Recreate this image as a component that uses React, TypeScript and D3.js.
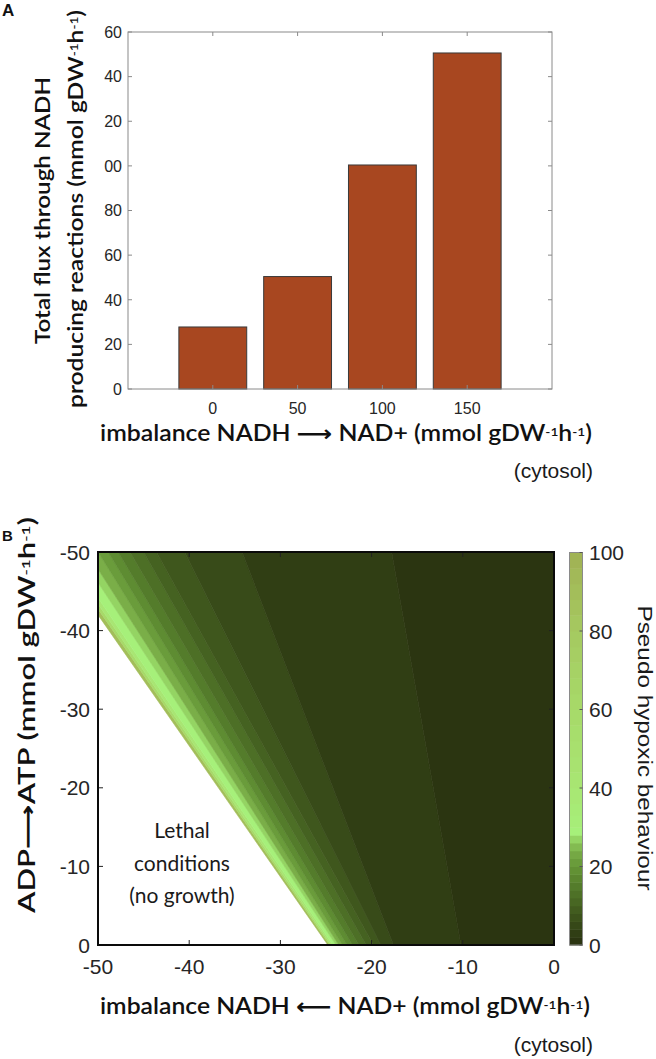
import React from 'react';
import * as d3 from 'd3';

// ---------- Panel A data ----------
const barCategories = [0, 50, 100, 150];
const barValues = [27.8, 50.4, 100.4, 150.6];
const barYTicks = [0, 20, 40, 60, 80, 100, 120, 140, 160];
const barYTickLabels = ['0', '20', '40', '60', '80', '00', '20', '40', '60'];

// ---------- Panel B data ----------
const mapXTicks = [-50, -40, -30, -20, -10, 0];
const mapYTicks = [-50, -40, -30, -20, -10, 0];
// contour lines: x position where each line crosses y = 0 and y = -50
const contourXAtY0 = [-24.8, -24.6, -24.45, -24.25, -23.9, -23.6, -23.2, -22.7, -22.1, -21.4, -20.6, -19.8, -19.0, -17.6, -10.2, 2];
const contourXAtYm50 = [-54.8, -54.3, -53.9, -53.4, -52.2, -51.2, -50.0, -48.9, -47.8, -46.5, -45.0, -43.6, -40.5, -34.2, -17.8, 2];
// value filling the band between consecutive contour lines
const bandValues = [90, 60, 40, 29, 27, 24, 21, 18, 15, 12.5, 10, 8, 5.5, 3, 1];

const cmapValues = [0, 4, 8, 12, 16, 20, 24, 27, 28.5, 40, 60, 80, 100];
const cmapColors = ['#28300f', '#334316', '#3f571d', '#4b6c25', '#57812d', '#659636', '#7aae48', '#94d463', '#a6f07a', '#a8e673', '#a7da69', '#a5c960', '#a1b254'];
const colorbarTicks = [0, 20, 40, 60, 80, 100];
const colorbarSteps = [0, 2, 4, 6, 8, 10, 12, 14, 16, 18, 20, 22, 24, 26, 28, 30, 33, 36, 40, 44, 48, 52, 56, 60, 64, 68, 72, 76, 80, 84, 88, 92, 96, 100];

const tickFont = "'Liberation Sans', Arial, Helvetica, sans-serif";
const labelFont = "Lato, 'Open Sans', sans-serif";

const Units = ({ sup }: { sup: number }) => (
  <>
    <tspan>(mmol gDW</tspan>
    <tspan dy={-sup} fontSize="0.55em">-1</tspan>
    <tspan dy={sup}>h</tspan>
    <tspan dy={-sup} fontSize="0.55em">-1</tspan>
    <tspan dy={sup}>)</tspan>
  </>
);

export default function App() {
  // Panel A scales
  const ax = d3.scaleLinear().domain([-50, 200]).range([128, 552]);
  const ay = d3.scaleLinear().domain([0, 160]).range([389, 32]);
  const halfW = 20;

  // Panel B scales
  const bx = d3.scaleLinear().domain([-50, 0]).range([98, 554]);
  const by = d3.scaleLinear().domain([0, -50]).range([945, 552]);
  const cmap = d3.scaleLinear<string>().domain(cmapValues).range(cmapColors).interpolate(d3.interpolateRgb);
  const cy = d3.scaleLinear().domain([0, 100]).range([945, 552.5]);

  const bands = bandValues.map((v, i) => {
    const pts: [number, number][] = [
      [bx(contourXAtY0[i]), by(0)],
      [bx(contourXAtYm50[i]), by(-50)],
      [bx(contourXAtYm50[i + 1]), by(-50)],
      [bx(contourXAtY0[i + 1]), by(0)],
    ];
    return { v, d: 'M' + pts.map(p => p.join(',')).join('L') + 'Z' };
  });

  const gray = '#8a8a8a';
  const tickColor = '#262626';

  return (
    <svg width={656} height={1059} style={{ position: 'absolute', left: 0, top: 0, background: '#fff' }}>
      <defs>
        <clipPath id="mapClip">
          <rect x={bx(-50)} y={by(-50)} width={bx(0) - bx(-50)} height={by(0) - by(-50)} />
        </clipPath>
      </defs>

      {/* ---------------- Panel A ---------------- */}
      <text x={2} y={16} fontFamily={tickFont} fontWeight="bold" fontSize={17} fill="#111">A</text>

      {barCategories.map((c, i) => (
        <rect key={c} x={ax(c - halfW)} y={ay(barValues[i])} width={ax(c + halfW) - ax(c - halfW)} height={ay(0) - ay(barValues[i])}
          fill="#a84720" stroke="#3a3a3a" strokeWidth={1} />
      ))}

      <rect x={ax(-50)} y={ay(160)} width={ax(200) - ax(-50)} height={ay(0) - ay(160)} fill="none" stroke={gray} strokeWidth={1} />
      {barYTicks.map((t, i) => (
        <g key={t}>
          <line x1={ax(-50)} x2={ax(-50) + 4} y1={ay(t)} y2={ay(t)} stroke={gray} />
          <line x1={ax(200)} x2={ax(200) - 4} y1={ay(t)} y2={ay(t)} stroke={gray} />
          <text x={122} y={ay(t)} dy="0.36em" textAnchor="end" fontFamily={tickFont} fontSize={16} fill={tickColor}>{barYTickLabels[i]}</text>
        </g>
      ))}
      {barCategories.map(c => (
        <g key={c}>
          <line x1={ax(c)} x2={ax(c)} y1={ay(0)} y2={ay(0) - 4} stroke={gray} />
          <line x1={ax(c)} x2={ax(c)} y1={ay(160)} y2={ay(160) + 4} stroke={gray} />
          <text x={ax(c)} y={414} textAnchor="middle" fontFamily={tickFont} fontSize={16} fill={tickColor}>{c}</text>
        </g>
      ))}

      <text transform="translate(50,210.5) rotate(-90)" textAnchor="middle" fontFamily={labelFont} fontWeight={600} fontSize={21} fill="#111"
        textLength={267} lengthAdjust="spacingAndGlyphs">Total flux through NADH</text>
      <text transform="translate(83,209) rotate(-90)" textAnchor="middle" fontFamily={labelFont} fontWeight={600} fontSize={21} fill="#111"
        textLength={398} lengthAdjust="spacingAndGlyphs">producing reactions <Units sup={5} /></text>

      <text x={100} y={441} fontFamily={labelFont} fontWeight={600} fontSize={22} fill="#111" textLength={492} lengthAdjust="spacingAndGlyphs">
        imbalance NADH <tspan fontFamily="'DejaVu Sans'" fontWeight="bold">⟶</tspan> NAD+ <Units sup={5} />
      </text>
      <text x={593} y={478} textAnchor="end" fontFamily={tickFont} fontSize={21} fill="#1a1a1a">(cytosol)</text>

      {/* ---------------- Panel B ---------------- */}
      <text x={2} y={541} fontFamily={tickFont} fontWeight="bold" fontSize={15} fill="#111">B</text>

      <g clipPath="url(#mapClip)">
        {bands.map((b, i) => (
          <path key={i} d={b.d} fill={cmap(b.v)} stroke={cmap(b.v)} strokeWidth={0.6} />
        ))}
      </g>

      {/* ticks */}
      {mapXTicks.map(t => (
        <g key={'x' + t}>
          <line x1={bx(t)} x2={bx(t)} y1={by(0)} y2={by(0) - 5} stroke="#222" />
          <line x1={bx(t)} x2={bx(t)} y1={by(-50)} y2={by(-50) + 5} stroke="#222" />
          <text x={bx(t)} y={974} textAnchor="middle" fontFamily={tickFont} fontSize={21} fill={tickColor}>{t}</text>
        </g>
      ))}
      {mapYTicks.map(t => (
        <g key={'y' + t}>
          <line x1={bx(-50)} x2={bx(-50) + 5} y1={by(t)} y2={by(t)} stroke="#222" />
          <line x1={bx(0)} x2={bx(0) - 5} y1={by(t)} y2={by(t)} stroke="#222" />
          <text x={90} y={by(t)} dy="0.36em" textAnchor="end" fontFamily={tickFont} fontSize={21} fill={tickColor}>{t}</text>
        </g>
      ))}
      <rect x={bx(-50)} y={by(-50)} width={bx(0) - bx(-50)} height={by(0) - by(-50)} fill="none" stroke="#0a0a0a" strokeWidth={2} />

      {/* lethal annotation */}
      <g fontFamily={labelFont} fontSize={21} fill="#1a1a1a" textAnchor="middle">
        <text x={182} y={838}>Lethal</text>
        <text x={182} y={871}>conditions</text>
        <text x={182} y={903}>(no growth)</text>
      </g>

      {/* colorbar */}
      {colorbarSteps.slice(0, -1).map((s, i) => (
        <rect key={s} x={569.5} y={cy(colorbarSteps[i + 1])} width={13} height={cy(s) - cy(colorbarSteps[i + 1]) + 0.5}
          fill={cmap((s + colorbarSteps[i + 1]) / 2)} />
      ))}
      <rect x={569.5} y={cy(100)} width={13} height={cy(0) - cy(100)} fill="none" stroke="#8a8a8a" strokeWidth={1} />
      {colorbarTicks.map(t => (
        <g key={'c' + t}>
          <line x1={582.5} x2={579.5} y1={cy(t)} y2={cy(t)} stroke="#555" />
          <text x={589} y={cy(t)} dy="0.36em" fontFamily={tickFont} fontSize={21} fill={tickColor}>{t}</text>
        </g>
      ))}
      <text transform="translate(638,748) rotate(90)" textAnchor="middle" fontFamily={tickFont} fontSize={21} fill="#1a1a1a"
        textLength={285} lengthAdjust="spacingAndGlyphs">Pseudo hypoxic behaviour</text>

      {/* axis labels */}
      <text transform="translate(35,913) rotate(-90)" fontFamily={labelFont} fontWeight={600} fontSize={22} fill="#111"
        textLength={396} lengthAdjust="spacingAndGlyphs">
        ADP<tspan fontFamily="'DejaVu Sans'" fontWeight="bold">⟶</tspan>ATP <Units sup={5} />
      </text>
      <text x={100} y={1014} fontFamily={labelFont} fontWeight={600} fontSize={22} fill="#111" textLength={490} lengthAdjust="spacingAndGlyphs">
        imbalance NADH <tspan fontFamily="'DejaVu Sans'" fontWeight="bold">⟵</tspan> NAD+ <Units sup={5} />
      </text>
      <text x={593} y={1052} textAnchor="end" fontFamily={tickFont} fontSize={21} fill="#1a1a1a">(cytosol)</text>
    </svg>
  );
}
